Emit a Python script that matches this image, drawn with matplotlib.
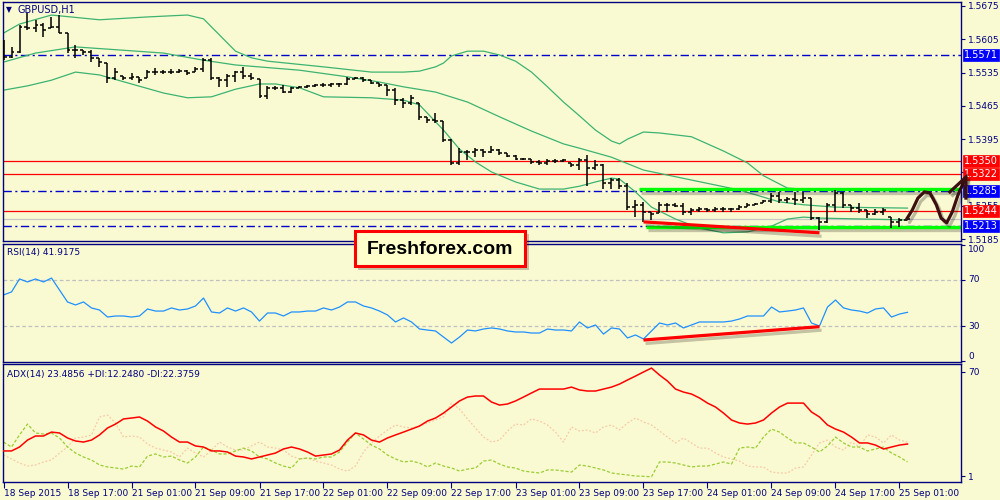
import matplotlib
matplotlib.use('Agg')
import matplotlib.pyplot as plt
import matplotlib.patheffects as pe
from matplotlib.patches import Rectangle
import numpy as np

# ---------------- data ----------------
symbol_title = 'GBPUSD,H1'
rsi_title = 'RSI(14) 41.9175'
adx_title = 'ADX(14) 23.4856 +DI:12.2480 -DI:22.3759'

date_labels = ['18 Sep 2015', '18 Sep 17:00', '21 Sep 01:00', '21 Sep 09:00', '21 Sep 17:00',
               '22 Sep 01:00', '22 Sep 09:00', '22 Sep 17:00', '23 Sep 01:00', '23 Sep 09:00',
               '23 Sep 17:00', '24 Sep 01:00', '24 Sep 09:00', '24 Sep 17:00', '25 Sep 01:00']
date_tick_bars = [0, 8, 16, 24, 32, 40, 48, 56, 64, 72, 80, 88, 96, 104, 112]

first_open = 1.5590
high = [1.5603, 1.5589, 1.5635, 1.5660, 1.5646, 1.5639, 1.5652, 1.5656, 1.5618, 1.5593,
        1.5582, 1.5582, 1.5566, 1.5555, 1.5545, 1.5528, 1.5534, 1.5526, 1.5540, 1.5545,
        1.5540, 1.5543, 1.5543, 1.5540, 1.5547, 1.5566, 1.5566, 1.5526, 1.5532, 1.5538,
        1.5547, 1.5534, 1.5521, 1.5507, 1.5507, 1.5509, 1.5505, 1.5507, 1.5509, 1.5511,
        1.5513, 1.5513, 1.5513, 1.5526, 1.5526, 1.5526, 1.5519, 1.5513, 1.5509, 1.5503,
        1.5482, 1.5488, 1.5471, 1.5442, 1.5450, 1.5433, 1.5395, 1.5376, 1.5372, 1.5376,
        1.5374, 1.5381, 1.5374, 1.5366, 1.5362, 1.5355, 1.5353, 1.5351, 1.5353, 1.5353,
        1.5353, 1.5345, 1.5355, 1.5362, 1.5351, 1.5343, 1.5313, 1.5313, 1.5303, 1.5267,
        1.5263, 1.5242, 1.5263, 1.5261, 1.5261, 1.5261, 1.5250, 1.5252, 1.5250, 1.5252,
        1.5252, 1.5250, 1.5257, 1.5261, 1.5261, 1.5267, 1.5282, 1.5284, 1.5273, 1.5284,
        1.5284, 1.5271, 1.5231, 1.5261, 1.5288, 1.5284, 1.5257, 1.5261, 1.5246, 1.5248,
        1.5250, 1.5231, 1.5229, 1.5229]
low = [1.5561, 1.5566, 1.5576, 1.5625, 1.5620, 1.5610, 1.5629, 1.5618, 1.5576, 1.5566,
       1.5572, 1.5557, 1.5547, 1.5513, 1.5519, 1.5519, 1.5519, 1.5513, 1.5524, 1.5530,
       1.5532, 1.5532, 1.5534, 1.5530, 1.5536, 1.5536, 1.5519, 1.5505, 1.5505, 1.5515,
       1.5521, 1.5519, 1.5482, 1.5479, 1.5498, 1.5492, 1.5492, 1.5503, 1.5503, 1.5505,
       1.5505, 1.5505, 1.5505, 1.5509, 1.5521, 1.5515, 1.5511, 1.5505, 1.5486, 1.5467,
       1.5460, 1.5467, 1.5435, 1.5429, 1.5429, 1.5389, 1.5341, 1.5341, 1.5351, 1.5357,
       1.5357, 1.5366, 1.5362, 1.5357, 1.5351, 1.5351, 1.5343, 1.5341, 1.5341, 1.5345,
       1.5347, 1.5336, 1.5330, 1.5296, 1.5330, 1.5290, 1.5290, 1.5290, 1.5246, 1.5231,
       1.5221, 1.5225, 1.5240, 1.5242, 1.5252, 1.5236, 1.5236, 1.5242, 1.5242, 1.5242,
       1.5242, 1.5242, 1.5246, 1.5252, 1.5257, 1.5261, 1.5261, 1.5261, 1.5261, 1.5257,
       1.5261, 1.5225, 1.5204, 1.5219, 1.5242, 1.5250, 1.5242, 1.5240, 1.5229, 1.5236,
       1.5236, 1.5208, 1.5210, 1.5225]
close = [1.5568, 1.5578, 1.5631, 1.5629, 1.5635, 1.5625, 1.5631, 1.5618, 1.5582, 1.5582,
         1.5578, 1.5566, 1.5557, 1.5524, 1.5536, 1.5524, 1.5526, 1.5519, 1.5536, 1.5536,
         1.5536, 1.5536, 1.5538, 1.5534, 1.5543, 1.5561, 1.5524, 1.5519, 1.5528, 1.5536,
         1.5528, 1.5524, 1.5486, 1.5503, 1.5503, 1.5494, 1.5503, 1.5505, 1.5507, 1.5509,
         1.5509, 1.5511, 1.5511, 1.5521, 1.5524, 1.5519, 1.5513, 1.5509, 1.5498, 1.5477,
         1.5471, 1.5482, 1.5442, 1.5435, 1.5433, 1.5393, 1.5345, 1.5368, 1.5368, 1.5372,
         1.5368, 1.5372, 1.5366, 1.5360, 1.5353, 1.5353, 1.5347, 1.5345, 1.5349, 1.5349,
         1.5351, 1.5341, 1.5351, 1.5334, 1.5341, 1.5303, 1.5309, 1.5296, 1.5252, 1.5257,
         1.5242, 1.5238, 1.5257, 1.5257, 1.5254, 1.5242, 1.5246, 1.5248, 1.5246, 1.5248,
         1.5248, 1.5248, 1.5252, 1.5257, 1.5259, 1.5265, 1.5275, 1.5267, 1.5269, 1.5267,
         1.5271, 1.5229, 1.5221, 1.5257, 1.5282, 1.5257, 1.5250, 1.5246, 1.5238, 1.5242,
         1.5246, 1.5221, 1.5225, 1.5227]

# Bollinger bands read at selected bars
bb_upper_idx = [0, 2, 6, 12, 18, 23, 25, 27, 29, 31, 33, 40, 46, 50, 52, 54, 55, 56, 58, 60,
                62, 64, 66, 68, 70, 72, 74, 76, 77, 78, 80, 82, 86, 90, 93, 95, 98, 102, 113]
bb_upper = [1.5618, 1.5637, 1.5656, 1.5646, 1.5652, 1.5656, 1.5648, 1.5614, 1.5580, 1.5566,
            1.5559, 1.5547, 1.5536, 1.5536, 1.5538, 1.5547, 1.5555, 1.5570, 1.5580, 1.5580,
            1.5572, 1.5559, 1.5536, 1.5505, 1.5473, 1.5444, 1.5414, 1.5391, 1.5385, 1.5395,
            1.5410, 1.5408, 1.5400, 1.5370, 1.5345, 1.5318, 1.5292, 1.5288, 1.5286]
bb_mid_idx = [0, 4, 9, 20, 25, 29, 37, 43, 47, 50, 54, 58, 62, 66, 70, 72, 76, 80, 86, 92,
              97, 100, 104, 113]
bb_mid = [1.5557, 1.5576, 1.5589, 1.5576, 1.5561, 1.5551, 1.5540, 1.5526, 1.5515, 1.5505,
          1.5494, 1.5473, 1.5442, 1.5412, 1.5385, 1.5376, 1.5357, 1.5330, 1.5309, 1.5288,
          1.5263, 1.5257, 1.5252, 1.5250]
bb_low_idx = [0, 3, 6, 9, 12, 16, 20, 23, 26, 29, 32, 34, 37, 40, 46, 50, 52, 55, 57, 59,
              61, 64, 67, 70, 72, 74, 76, 77, 79, 81, 84, 87, 90, 93, 96, 98, 100, 102, 113]
bb_low = [1.5498, 1.5507, 1.5519, 1.5536, 1.5530, 1.5511, 1.5492, 1.5482, 1.5484, 1.5500,
          1.5511, 1.5511, 1.5503, 1.5484, 1.5482, 1.5477, 1.5467, 1.5414, 1.5374, 1.5347,
          1.5326, 1.5305, 1.5290, 1.5290, 1.5296, 1.5305, 1.5313, 1.5311, 1.5284, 1.5252,
          1.5227, 1.5208, 1.5198, 1.5200, 1.5212, 1.5227, 1.5231, 1.5229, 1.5225]

rsi = [57.0, 59.6, 70.9, 68.3, 70.9, 68.3, 71.7, 61.3, 50.9, 48.3,
       50.9, 45.7, 43.9, 37.8, 38.7, 38.7, 37.8, 38.7, 44.8, 43.0,
       43.0, 45.7, 43.9, 44.8, 47.4, 54.3, 42.2, 41.3, 45.7, 43.0,
       45.7, 42.2, 34.3, 41.3, 41.3, 38.7, 42.2, 42.2, 43.0, 43.0,
       45.7, 43.9, 46.5, 50.9, 50.9, 47.4, 45.7, 43.0, 39.6, 33.5,
       37.0, 33.5, 27.4, 26.5, 25.7, 20.4, 15.2, 20.4, 26.5, 25.7,
       27.4, 28.3, 27.4, 25.7, 24.8, 24.8, 23.9, 23.9, 27.4, 26.5,
       26.5, 25.7, 33.5, 28.3, 30.9, 23.0, 28.3, 27.4, 19.6, 22.2,
       18.7, 25.7, 32.6, 30.9, 32.6, 28.3, 30.9, 33.5, 33.5, 33.5,
       33.5, 34.3, 36.1, 38.7, 38.7, 38.7, 46.5, 42.2, 43.0, 43.9,
       45.7, 32.6, 30.0, 46.5, 52.6, 45.7, 43.9, 43.0, 41.3, 44.8,
       45.7, 37.8, 40.4, 41.9]

adx = [17.6, 17.6, 20.2, 24.8, 27.5, 27.5, 30.1, 29.5, 26.2, 24.2,
       23.5, 24.8, 28.2, 32.8, 35.4, 38.8, 39.4, 40.1, 37.4, 33.5,
       30.8, 26.8, 23.5, 23.5, 20.9, 20.2, 17.6, 17.6, 16.9, 14.2,
       13.6, 12.3, 13.6, 14.9, 16.2, 18.9, 20.2, 18.9, 16.9, 14.2,
       14.9, 15.6, 18.2, 24.8, 29.5, 28.2, 24.8, 23.5, 26.2, 28.2,
       30.1, 32.1, 34.1, 37.4, 39.4, 42.7, 46.7, 50.7, 53.3, 54.0,
       54.0, 50.0, 48.0, 48.7, 50.7, 53.3, 56.0, 58.6, 58.6, 58.6,
       58.6, 59.9, 58.0, 57.3, 57.3, 58.6, 59.9, 61.9, 64.6, 67.2,
       69.9, 72.5, 67.9, 63.9, 58.6, 56.6, 55.3, 52.7, 49.3, 46.7,
       42.7, 38.1, 36.1, 35.4, 36.1, 38.1, 42.7, 46.7, 49.3, 49.3,
       49.3, 43.4, 40.1, 34.8, 32.1, 30.1, 26.8, 22.9, 22.9, 21.5,
       18.9, 20.2, 21.5, 22.2]
plus_di = [23.5, 20.2, 28.2, 35.4, 29.5, 28.8, 29.5, 26.2, 20.2, 16.2,
           13.6, 11.6, 8.3, 7.0, 6.3, 5.6, 7.6, 7.0, 14.2, 15.6,
           13.6, 14.2, 11.6, 9.6, 13.6, 20.2, 18.2, 15.6, 15.6, 17.6,
           19.5, 17.6, 13.6, 12.3, 9.6, 7.6, 6.3, 12.3, 12.9, 12.3,
           13.6, 13.6, 16.9, 23.5, 29.5, 25.5, 21.5, 18.9, 14.9, 12.3,
           10.3, 10.9, 9.6, 7.0, 9.6, 7.6, 6.3, 4.3, 5.6, 6.3,
           10.9, 11.6, 8.9, 7.0, 6.3, 4.3, 3.6, 3.0, 5.0, 5.0,
           4.3, 3.6, 8.3, 7.6, 6.3, 5.0, 3.0, 2.3, 1.7, 1.0,
           0.8, 0.5, 10.3, 10.3, 9.6, 8.3, 7.0, 7.6, 7.6, 8.9,
           10.3, 8.9, 19.5, 20.2, 19.5, 26.8, 32.1, 30.1, 26.2, 22.9,
           22.9, 20.2, 16.9, 20.9, 26.8, 22.9, 20.2, 20.2, 17.6, 18.9,
           20.2, 16.2, 13.6, 10.3]
minus_di = [14.9, 12.3, 9.6, 7.6, 8.3, 10.3, 11.6, 16.2, 20.2, 26.2,
            26.8, 28.2, 40.1, 41.4, 36.1, 26.8, 27.5, 26.8, 22.2, 19.5,
            18.2, 16.9, 13.6, 19.5, 16.2, 13.6, 18.2, 23.5, 20.2, 18.2,
            18.2, 20.9, 23.5, 20.2, 19.5, 18.2, 14.2, 12.3, 12.9, 10.9,
            9.6, 8.3, 5.6, 4.3, 7.6, 16.9, 22.9, 27.5, 31.5, 34.8,
            33.5, 32.8, 34.1, 36.1, 38.1, 40.1, 49.3, 45.4, 38.8, 32.8,
            26.8, 23.5, 24.8, 30.8, 35.4, 34.8, 38.8, 37.4, 34.8, 30.1,
            23.5, 33.5, 30.8, 31.5, 29.5, 33.5, 34.8, 31.5, 36.1, 39.4,
            36.8, 34.8, 30.8, 26.8, 22.9, 26.2, 22.9, 19.5, 19.5, 16.2,
            13.6, 12.3, 10.9, 7.6, 7.0, 7.0, 3.6, 3.0, 3.0, 6.3,
            7.0, 14.9, 22.9, 24.8, 20.2, 18.2, 23.5, 20.2, 28.2, 26.8,
            22.9, 28.2, 24.8, 23.5]

price_ticks = [1.5185, 1.5255, 1.5325, 1.5395, 1.5465, 1.5535, 1.5605, 1.5675]
hidden_tick = 1.5325  # covered by the 1.5322 label in the reference
red_levels = [1.5350, 1.5322, 1.5244]
blue_levels = [1.5571, 1.5285, 1.5213]
last_price = 1.5227

# channel (green) lines: start bar, price
channel_top = (79.4, 1.5290)
channel_bottom = (80.3, 1.5211)
# divergence lines (bar, value)
div_price = ([80, 102], [1.5221, 1.5198])
div_rsi = ([80, 102], [17.8, 29.4])
# hand-drawn forecast path (bar, price)
fc_x = [112.9, 113.6, 114.3, 115.1, 115.8, 116.6, 117.2, 117.9, 118.6, 119.3, 120.3]
fc_y = [1.5227, 1.5246, 1.5271, 1.5284, 1.5282, 1.5257, 1.5229, 1.5219, 1.5242, 1.5277, 1.5315]
fc_head_x = [118.3, 120.3, 120.3]
fc_head_y = [1.5284, 1.5315, 1.5271]

# ---------------- style ----------------
BG = '#FAFAD2'
NAVY = '#000080'
BBC = '#3CB371'
FS = 6.5
W, H = 1000, 500

fig = plt.figure(figsize=(10, 5), dpi=100, facecolor=BG)


def px_rect(x0, y0, x1, y1):
    return [x0 / W, 1 - y1 / H, (x1 - x0) / W, (y1 - y0) / H]


ax = fig.add_axes(px_rect(3, 2, 961, 241))
ax_rsi = fig.add_axes(px_rect(3, 244, 961, 362))
ax_adx = fig.add_axes(px_rect(3, 364, 961, 482))
XL = (-0.0625, 119.6875)

for a in (ax, ax_rsi, ax_adx):
    a.set_facecolor(BG)
    a.set_xlim(*XL)
    for s in a.spines.values():
        s.set_color(NAVY)
        s.set_linewidth(1.0)
    a.yaxis.tick_right()
    a.tick_params(axis='y', direction='out', length=3, width=0.8, color=NAVY,
                  labelcolor=NAVY, labelsize=FS, pad=2)
    a.tick_params(axis='x', bottom=False, labelbottom=False)

# ---------------- main price panel ----------------
n = len(close)
idx = np.arange(n)
hi = np.array(high[:n])
lo = np.array(low[:n])
cl = np.array(close[:n])
op = np.clip(np.r_[first_open, cl[:-1]], lo, hi)

YL = (1.51808, 1.56834)
ax.set_ylim(*YL)
ax.set_yticks(price_ticks)
ax.set_yticklabels(['' if abs(v - hidden_tick) < 1e-9 else f'{v:.4f}' for v in price_ticks])

ax.plot(bb_upper_idx, bb_upper, color=BBC, lw=0.9, zorder=2)
ax.plot(bb_mid_idx, bb_mid, color=BBC, lw=0.9, zorder=2)
ax.plot(bb_low_idx, bb_low, color=BBC, lw=0.9, zorder=2)

for v in red_levels:
    ax.axhline(v, color='#FF0000', lw=0.9, zorder=1.5)
for v in blue_levels:
    ax.axhline(v, color='#0000CD', lw=1.0, ls=(0, (6, 2.5, 1.5, 2.5)), zorder=1.5)
ax.axhline(last_price, color='#C8C8C8', lw=0.9, zorder=1.4)

shadow = [pe.SimpleLineShadow(offset=(1.5, -2.5), shadow_color='black', alpha=0.22), pe.Normal()]
ax.plot([channel_top[0], XL[1]], [channel_top[1]] * 2, color='#00FF00', lw=2.4,
        solid_capstyle='butt', path_effects=shadow, zorder=2.2)
ax.plot([channel_bottom[0], XL[1]], [channel_bottom[1]] * 2, color='#00FF00', lw=2.4,
        solid_capstyle='butt', path_effects=shadow, zorder=2.2)

ax.vlines(idx, lo, hi, color='black', lw=1.1, zorder=3)
ax.hlines(op, idx - 0.375, idx, color='black', lw=1.1, zorder=3)
ax.hlines(cl, idx, idx + 0.375, color='black', lw=1.1, zorder=3)

ax.plot(div_price[0], div_price[1], color='#FF0000', lw=2.3, solid_capstyle='butt',
        path_effects=shadow, zorder=3.5)

# right-side price label boxes (12 px tall, 37 px wide)
ax_w_px = 958.0
ax_h_px = 239.0
box_h = 12 * (YL[1] - YL[0]) / ax_h_px
ytr = ax.get_yaxis_transform()


def price_label(v, color):
    r = Rectangle((1 + 1.5 / ax_w_px, v - box_h / 2), 37 / ax_w_px, box_h, transform=ytr,
                  fc=color, ec=color, lw=0.5, clip_on=False, zorder=5)
    ax.add_patch(r)
    ax.text(1 + 20 / ax_w_px, v, f'{v:.4f}', transform=ytr, ha='center', va='center',
            color='white', fontsize=7, clip_on=False, zorder=5.5)


for v in red_levels:
    price_label(v, '#FF0000')
for v in blue_levels:
    price_label(v, '#0000FF')

brown = '#3C1010'
fshadow = [pe.SimpleLineShadow(offset=(2, -2.5), shadow_color='black', alpha=0.25), pe.Normal()]
ax.plot(fc_x, fc_y, color=brown, lw=2.3, solid_capstyle='round', solid_joinstyle='round',
        clip_on=False, path_effects=fshadow, zorder=6)
ax.plot(fc_head_x, fc_head_y, color=brown, lw=2.3, solid_joinstyle='miter',
        clip_on=False, path_effects=fshadow, zorder=6)

# ---------------- RSI panel ----------------
ax_rsi.set_ylim(-1.3, 101.3)
ax_rsi.axhline(70, color='#C0C0C0', lw=0.9, ls=(0, (3, 2)), zorder=1)
ax_rsi.axhline(30, color='#C0C0C0', lw=0.9, ls=(0, (3, 2)), zorder=1)
ax_rsi.plot(idx, rsi[:n], color='#1E90FF', lw=0.9, zorder=2)
ax_rsi.plot(div_rsi[0], div_rsi[1], color='#FF0000', lw=2.3, solid_capstyle='butt',
            path_effects=shadow, zorder=3)
ax_rsi.set_yticks([0, 30, 70, 100])
ax_rsi.set_yticklabels(['0', '30', '70', '100'])
for lab, va in zip(ax_rsi.get_yticklabels(), ['bottom', 'center', 'center', 'top']):
    lab.set_va(va)

# ---------------- ADX panel ----------------
ax_adx.set_ylim(-2.97, 75.2)
ax_adx.plot(idx, minus_di[:n], color='#F7C9A6', lw=0.9, ls=(0, (1.5, 1.5)), zorder=1)
ax_adx.plot(idx, plus_di[:n], color='#9ACD32', lw=0.9, ls=(0, (2.5, 1.5)), zorder=2)
ax_adx.plot(idx, adx[:n], color='#FF0000', lw=1.1, zorder=3)
ax_adx.set_yticks([1, 70])
ax_adx.set_yticklabels(['1', '70'])
ax_adx.set_xticks(date_tick_bars)
ax_adx.set_xticklabels(date_labels)
ax_adx.tick_params(axis='x', bottom=True, labelbottom=True, direction='out', length=4,
                   width=0.8, color=NAVY, labelcolor=NAVY, labelsize=FS, pad=1)
for lab in ax_adx.get_xticklabels():
    lab.set_ha('left')

# ---------------- header texts ----------------
fig.text(6 / W, 1 - 10 / H, '\u25BC', fontsize=5.5, color=NAVY, va='center', ha='left')
fig.text(18 / W, 1 - 10 / H, symbol_title, fontsize=7, color=NAVY, va='center', ha='left')
fig.text(7 / W, 1 - 252.5 / H, rsi_title, fontsize=FS, color=NAVY, va='center', ha='left')
fig.text(7 / W, 1 - 374 / H, adx_title, fontsize=FS, color=NAVY, va='center', ha='left')

# ---------------- watermark box ----------------
box_shadow = Rectangle((358 / W, 1 - 270 / H), 171 / W, 36 / H, transform=fig.transFigure,
                       fc='black', ec='none', alpha=0.22)
box = Rectangle((355 / W, 1 - 266 / H), 170 / W, 35 / H, transform=fig.transFigure,
                fc='#FFFFCC', ec='#FF0000', lw=2.2)
fig.add_artist(box_shadow)
fig.add_artist(box)
fig.text(440 / W, 1 - 249.5 / H, 'Freshforex.com', ha='center', va='center', fontsize=14,
         fontweight='bold', family='Liberation Sans', color='black', zorder=5)

fig.savefig('out.png', dpi=100, facecolor=BG)
